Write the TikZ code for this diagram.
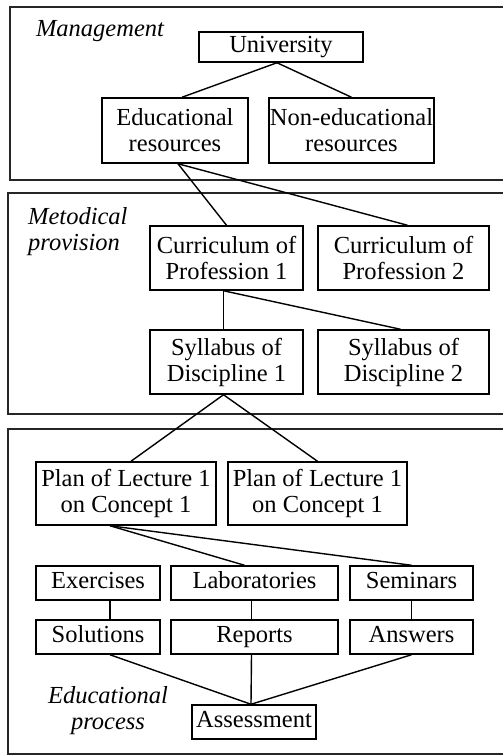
\documentclass[tikz,border=0pt]{standalone}
\usepackage{fontspec}
\setmainfont{Liberation Serif}
\usetikzlibrary{calc}
\begin{document}
\begin{tikzpicture}[x=1pt,y=-1pt,
  every node/.style={font=\fontsize{24.5}{26}\selectfont, inner sep=0pt, align=center},
  box/.style={draw, line width=1.5pt, minimum height=#1},
  box/.default=34,
  one/.style={text height=17pt, text depth=5.5pt},
  panel/.style={draw=black!85, line width=1.5pt},
  link/.style={line width=1.4pt},
  lbl/.style={font=\fontsize{24.5}{26}\selectfont\itshape}
]
\clip (0,0) rectangle (503,756);
\fill[white] (0,0) rectangle (503,756);

% three level frames (they run past the right edge)
\draw[panel] (10,7) rectangle (530,180);
\draw[panel] (8,193) rectangle (530,414);
\draw[panel] (8,429) rectangle (530,754);

% level labels
\node[lbl, anchor=base] (lmgmt) at (100,36) {Management};
\node[lbl, anchor=north west, align=left] (lmeth) at (28,207) {Metodical\\provision};
\node[lbl, anchor=north, align=center] (ledu) at (108,686) {Educational\\process};

% management
\node[box=30, one, minimum width=164] (univ) at (281,47) {University};
\node[box=65, minimum width=146] (edu) at (175,130.5) {Educational\\resources};
\node[box=65, minimum width=165] (nonedu) at (351.5,130.5) {Non-educational\\resources};

% methodical provision
\node[box=64, minimum width=153] (cur1) at (226.5,258) {Curriculum of\\Profession 1};
\node[box=64, minimum width=171] (cur2) at (403.5,258) {Curriculum of\\Profession 2};
\node[box=64, minimum width=153] (syl1) at (226.5,362) {Syllabus of\\Discipline 1};
\node[box=64, minimum width=171] (syl2) at (403.5,362) {Syllabus of\\Discipline 2};

% educational process
\node[box=63, minimum width=180] (plan1) at (126,493.5) {Plan of Lecture 1\\on Concept 1};
\node[box=63, minimum width=179] (plan2) at (317.5,493.5) {Plan of Lecture 1\\on Concept 1};
\node[box, one, minimum width=124] (exer) at (98,583) {Exercises};
\node[box, one, minimum width=167] (labs) at (254.5,583) {Laboratories};
\node[box, one, minimum width=123] (sem) at (411.5,583) {Seminars};
\node[box, one, minimum width=124] (sol) at (98,637) {Solutions};
\node[box, one, minimum width=167] (rep) at (254.5,637) {Reports};
\node[box, one, minimum width=123] (ans) at (411.5,637) {Answers};
\node[box, one, minimum width=124] (assess) at (254,722) {Assessment};

% connectors
\draw[link] ([xshift=-4pt]univ.south) -- ([xshift=7pt]edu.north);
\draw[link] ([xshift=-4pt]univ.south) -- (nonedu.north);
\draw[link] ([xshift=3pt]edu.south) -- (cur1.north);
\draw[link] ([xshift=3pt]edu.south) -- ([xshift=4pt]cur2.north);
\draw[link] ([xshift=-3pt]cur1.south) -- ([xshift=-3pt]syl1.north);
\draw[link] ([xshift=-3pt]cur1.south) -- ([xshift=-3pt]syl2.north);
\draw[link] ([xshift=-3pt]syl1.south) -- ([xshift=5pt]plan1.north);
\draw[link] ([xshift=-3pt]syl1.south) -- (plan2.north);
\draw[link] ([xshift=-16pt]plan1.south) -- ([xshift=-10pt]labs.north);
\draw[link] ([xshift=-16pt]plan1.south) -- (sem.north);
\draw[link] ([xshift=12pt]exer.south) -- ([xshift=12pt]sol.north);
\draw[link] ([xshift=-3pt]labs.south) -- ([xshift=-3pt]rep.north);
\draw[link] (sem.south) -- (ans.north);
\draw[link] ([xshift=12pt]sol.south) -- ([xshift=-3pt]assess.north);
\draw[link] ([xshift=-3pt]rep.south) -- ([xshift=-3pt]assess.north);
\draw[link] (ans.south) -- ([xshift=-3pt]assess.north);
\end{tikzpicture}
\end{document}
